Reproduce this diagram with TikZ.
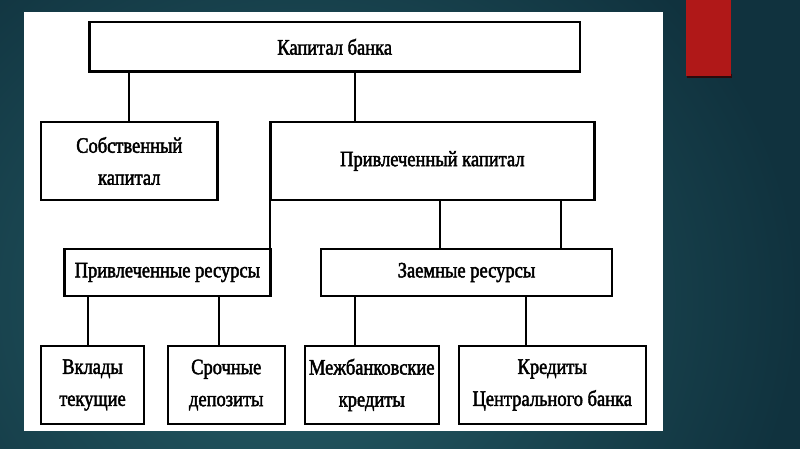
\documentclass[tikz,border=0pt]{standalone}
\usepackage{fontspec}
\setmainfont{Liberation Serif}[FakeStretch=0.84,FakeBold=2]
\definecolor{bgA}{RGB}{38,94,104}
\definecolor{bgB}{RGB}{16,50,62}
\definecolor{redbar}{RGB}{176,24,24}
\tikzset{
  box/.style={draw=black, line width=2.5pt, fill=white, inner sep=0pt, align=center,
              font=\fontsize{22}{32}\selectfont, text=black},
  link/.style={draw=black, line width=2pt},
}
\begin{document}
\begin{tikzpicture}[x=1pt,y=-1pt]
\useasboundingbox (0,0) rectangle (800,449);
% background
\begin{scope}
  \clip (0,0) rectangle (800,449);
  \shade[inner color=bgA, outer color=bgB] (-200,-150) rectangle (800,750);
\end{scope}
% red bar
\fill[black!80!red, opacity=0.8] (687,74) rectangle (731.5,78);
\fill[redbar] (686,0) rectangle (730.5,76);
% white panel
\fill[white] (24,12) rectangle (663,431);

% nodes
\node[box, minimum width=490.2pt, minimum height=49.3pt] (top) at (334.7,46.85) {Капитал банка};
\node[box, minimum width=176.2pt, minimum height=77.6pt] (sk) at (129.3,161) {Собственный\\капитал};
\node[box, minimum width=324.1pt, minimum height=77.6pt] (pk) at (432.35,161) {Привлеченный капитал};
\node[box, minimum width=205.8pt, minimum height=46.6pt] (pr) at (167.4,272.5) {Привлеченные ресурсы};
\node[box, minimum width=290.6pt, minimum height=46.6pt] (zr) at (466.5,272.5) {Заемные ресурсы};
\node[box, minimum width=102.6pt, minimum height=77.6pt] (vk) at (92.5,385) {Вклады\\текущие};
\node[box, minimum width=117pt, minimum height=77.6pt] (sd) at (226.25,385) {Срочные\\депозиты};
\node[box, minimum width=134pt, minimum height=77.6pt] (mb) at (371.75,385) {Межбанковские\\кредиты};
\node[box, minimum width=187pt, minimum height=77.6pt] (kc) at (552.25,385) {Кредиты\\Центрального банка};

% connector x positions
\coordinate (xa) at (354.5,0);
\coordinate (xb) at (440,0);
\coordinate (xc) at (561,0);
\coordinate (xd) at (88.4,0);
\coordinate (xe) at (218.6,0);
\coordinate (xg) at (526,0);

\draw[link] (top.south -| sk.north) -- (sk.north);
\draw[link] (top.south -| xa) -- (pk.north -| xa);
\draw[link] ([xshift=1.25pt]pk.south west) -- ([xshift=1.25pt]pk.south west |- pr.north);
\draw[link] (pk.south -| xb) -- (zr.north -| xb);
\draw[link] (pk.south -| xc) -- (zr.north -| xc);
\draw[link] (pr.south -| xd) -- (vk.north -| xd);
\draw[link] (pr.south -| xe) -- (sd.north -| xe);
\draw[link] (zr.south -| xa) -- (mb.north -| xa);
\draw[link] (zr.south -| xg) -- (kc.north -| xg);
\end{tikzpicture}
\end{document}
